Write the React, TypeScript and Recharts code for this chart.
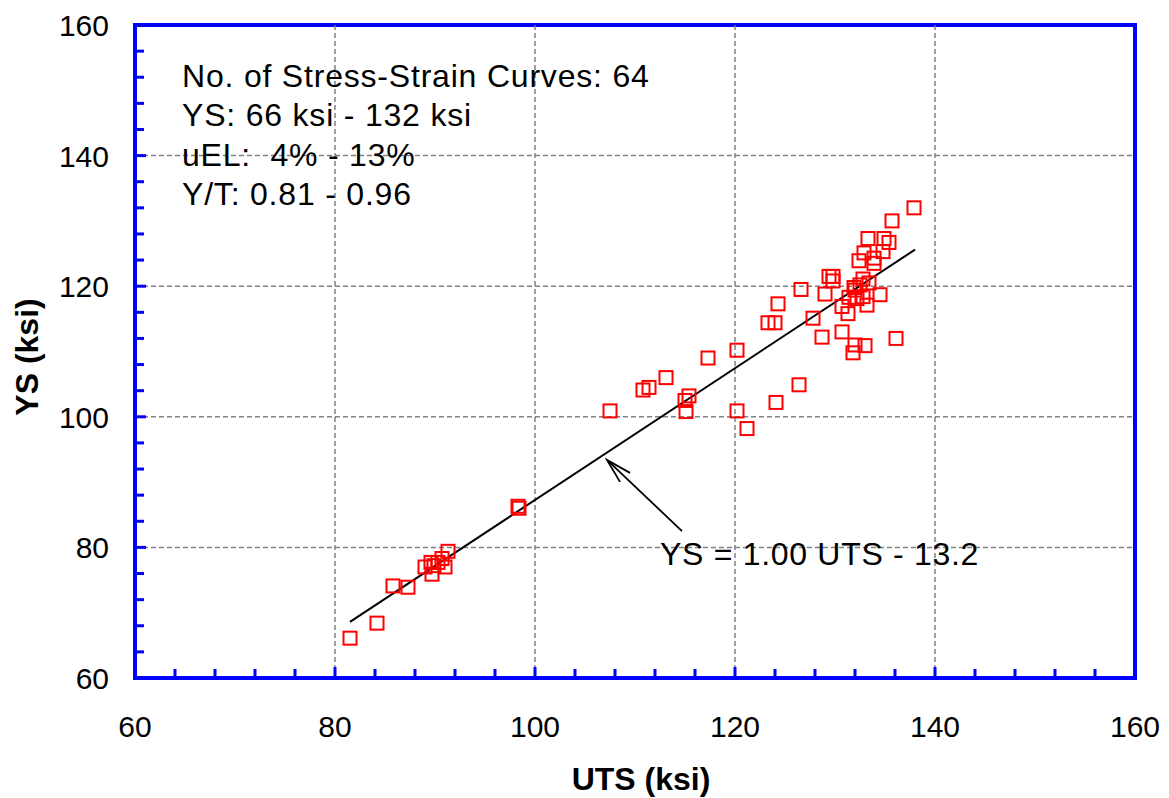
import React from "react";
import {
  ComposedChart,
  Scatter,
  XAxis,
  YAxis,
  ReferenceLine,
  ReferenceArea,
} from "recharts";

// UTS / YS pairs (ksi)
const utsKsi = [
  81.5, 84.2, 85.8, 87.3, 89.0, 89.6, 89.7, 89.9, 90.3, 90.7, 91.0, 91.3,
  98.3, 98.4,
  107.5, 110.8, 111.4, 113.1, 117.3, 120.2, 115.4, 115.0, 115.1, 120.2, 121.2, 124.1, 126.4,
  137.9, 135.7, 133.3, 134.9, 135.4, 132.9, 134.8, 133.9, 132.4, 133.9, 129.8, 129.4,
  129.8, 132.8, 126.6, 132.5, 129.0, 134.5, 132.0, 132.8, 132.2, 131.4, 124.3, 133.2,
  130.7, 131.3, 127.8, 124.0, 123.3, 130.7, 128.7, 136.1, 133.0, 132.0, 131.8, 131.9, 133.4,
];
const ysKsi = [
  66.1, 68.4, 74.1, 73.9, 77.0, 77.7, 75.9, 77.2, 77.7, 78.3, 77.0, 79.4,
  86.3, 86.0,
  100.9, 104.1, 104.5, 106.0, 109.0, 110.2, 103.2, 102.5, 100.8, 100.9, 98.2, 102.2, 104.9,
  132.0, 130.0, 127.3, 127.3, 126.7, 125.1, 125.3, 124.3, 123.9, 123.5, 121.5, 121.5,
  120.8, 121.1, 119.5, 120.2, 118.8, 118.7, 119.4, 118.4, 118.1, 118.3, 117.3, 117.1,
  116.9, 115.8, 115.1, 114.4, 114.4, 113.0, 112.2, 112.0, 110.9, 111.0, 109.8, 119.8, 120.5,
];

const points = utsKsi.map((x, i) => ({ x, y: ysKsi[i] }));

// regression line ends: YS = 1.00 UTS - 13.2
const fitLine = [
  { x: 81.5, y: 68.6 },
  { x: 138.0, y: 125.6 },
];

// pointer arrow from the equation to the line
const arrowPts = [
  { x: 114.7, y: 82.5 },
  { x: 107.2, y: 93.4 },
];

const axisTicks = [60, 64, 68, 72, 76, 80, 84, 88, 92, 96, 100, 104, 108, 112, 116, 120, 124, 128, 132, 136, 140, 144, 148, 152, 156, 160];
const gridValues = [80, 100, 120, 140];

const notes = [
  "No. of Stress-Strain Curves: 64",
  "YS: 66 ksi - 132 ksi",
  "uEL:  4% - 13%",
  "Y/T: 0.81 - 0.96",
];
const equation = "YS = 1.00 UTS - 13.2";

const FONT = "'Liberation Sans', Arial, sans-serif";
const BLUE = "#0000ff";

const XTick = (props: any) => {
  const { x, y, payload } = props;
  const v = payload.value;
  const major = v % 20 === 0;
  return (
    <g>
      {v > 60 && v < 160 && (
        <line x1={x} x2={x} y1={y} y2={y - (major ? 11 : 9)} stroke={BLUE} strokeWidth={3} />
      )}
      {major && (
        <text x={x} y={y + 59} textAnchor="middle" fontSize={30} fontFamily={FONT} fill="#000">
          {v}
        </text>
      )}
    </g>
  );
};

const YTick = (props: any) => {
  const { x, y, payload } = props;
  const v = payload.value;
  const major = v % 20 === 0;
  return (
    <g>
      {v > 60 && v < 160 && (
        <line x1={x} x2={x + (major ? 11 : 9)} y1={y} y2={y} stroke={BLUE} strokeWidth={3} />
      )}
      {major && (
        <text x={x - 26} y={y + 11} textAnchor="end" fontSize={30} fontFamily={FONT} fill="#000">
          {v}
        </text>
      )}
    </g>
  );
};

const Square = (props: any) => (
  <rect
    x={props.cx - 6.5}
    y={props.cy - 6.5}
    width={13}
    height={13}
    fill="none"
    stroke="#ff0000"
    strokeWidth={2}
  />
);

const Nothing = () => <g />;

const ArrowHead = (props: any) => {
  const { cx, cy, payload } = props;
  if (payload.x !== arrowPts[1].x) return <g />;
  return (
    <path
      d={`M${cx + 23},${cy + 13} L${cx},${cy} L${cx + 13},${cy + 22}`}
      fill="none"
      stroke="#000"
      strokeWidth={1.8}
    />
  );
};

export default function App() {
  return (
    <div style={{ position: "absolute", left: 0, top: 0, width: 1169, height: 798, background: "#fff" }}>
      <ComposedChart
        width={1169}
        height={798}
        margin={{ top: 25, right: 34, bottom: 0, left: 0 }}
      >
        <XAxis
          type="number"
          dataKey="x"
          domain={[60, 160]}
          ticks={axisTicks}
          interval={0}
          tickSize={0}
          tickMargin={0}
          axisLine={false}
          tickLine={false}
          tick={<XTick />}
          height={120}
          allowDataOverflow
        />
        <YAxis
          type="number"
          dataKey="y"
          domain={[60, 160]}
          ticks={axisTicks}
          interval={0}
          tickSize={0}
          tickMargin={0}
          axisLine={false}
          tickLine={false}
          tick={<YTick />}
          width={135}
          allowDataOverflow
        />
        {gridValues.map((v) => (
          <ReferenceLine key={`gx${v}`} x={v} stroke="#808080" strokeWidth={1.5} strokeDasharray="5 3" />
        ))}
        {gridValues.map((v) => (
          <ReferenceLine key={`gy${v}`} y={v} stroke="#808080" strokeWidth={1.5} strokeDasharray="5 3" />
        ))}
        <Scatter
          data={fitLine}
          line={{ stroke: "#000", strokeWidth: 2 }}
          shape={<Nothing />}
          isAnimationActive={false}
        />
        <Scatter
          data={arrowPts}
          line={{ stroke: "#000", strokeWidth: 1.8 }}
          shape={<ArrowHead />}
          isAnimationActive={false}
        />
        <Scatter data={points} shape={<Square />} isAnimationActive={false} />
        <ReferenceArea x1={60} x2={160} y1={60} y2={160} fill="none" stroke={BLUE} strokeWidth={4} />
      </ComposedChart>
      <svg
        width={1169}
        height={798}
        style={{ position: "absolute", left: 0, top: 0, pointerEvents: "none" }}
      >
        {notes.map((t, i) => (
          <text
            key={t}
            x={182}
            y={87 + i * 39.3}
            fontSize={32}
            letterSpacing={0.8}
            fontFamily={FONT}
            fill="#000"
            style={{ whiteSpace: "pre" }}
          >
            {t}
          </text>
        ))}
        <text x={660} y={565} fontSize={32} letterSpacing={0.7} fontFamily={FONT} fill="#000">
          {equation}
        </text>
        <text x={641} y={790} textAnchor="middle" fontSize={32} fontWeight="bold" fontFamily={FONT} fill="#000">
          UTS (ksi)
        </text>
        <text
          transform="translate(38,357) rotate(-90)"
          textAnchor="middle"
          fontSize={32}
          fontWeight="bold"
          fontFamily={FONT}
          fill="#000"
        >
          YS (ksi)
        </text>
      </svg>
    </div>
  );
}
